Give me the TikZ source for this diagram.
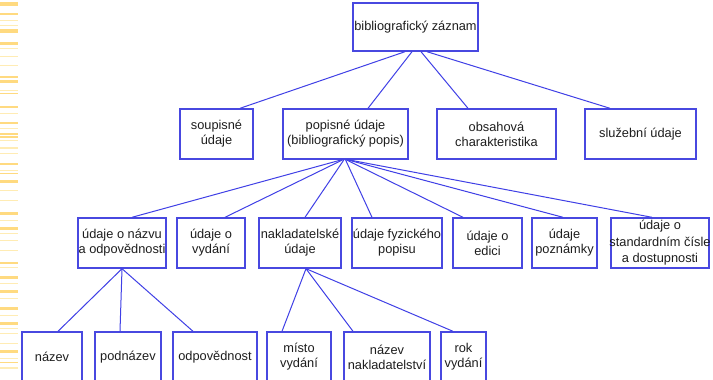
\documentclass[tikz,border=0pt]{standalone}
\usepackage{fontspec}
\setmainfont{Liberation Sans}
\usetikzlibrary{calc}
\definecolor{boxblue}{RGB}{72,72,224}
\definecolor{lineblue}{RGB}{64,64,230}
\definecolor{stripeA}{RGB}{255,218,128}
\definecolor{stripeB}{RGB}{255,236,180}
\definecolor{txt}{RGB}{30,30,30}
\tikzset{
  box/.style={draw=boxblue, line width=1.4pt, fill=white, inner sep=0pt,
    align=center, font=\fontsize{12.8}{15.2}\selectfont, text=txt},
  conn/.style={draw=lineblue, line width=1pt},
}
\begin{document}
\begin{tikzpicture}[x=1pt,y=-1pt]
\useasboundingbox (0,0) rectangle (713,380);
\fill[white] (0,0) rectangle (713,380);
% decorative stripes on the left edge
\foreach \ya/\h/\c in {2/4/stripeA,13/2/stripeA,20/1/stripeB,25/1/stripeB,29/4/stripeA,42/3/stripeA,48/1/stripeB,56/1/stripeB,65/1/stripeB,76/2/stripeA,80/3/stripeA,90/1/stripeB,93/1/stripeA,106/2/stripeA,113/1/stripeB,122/2/stripeA,128/1/stripeB,133/2/stripeA,136/2/stripeA,140/1/stripeB,147/2/stripeB,153/1/stripeB,163/2/stripeA,170/1/stripeB,173/1/stripeA,180/3/stripeA,190/1/stripeB,200/1/stripeB,212/3/stripeA,220/1/stripeB,227/3/stripeA,233/1/stripeB,240/1/stripeB,250/1/stripeB,262/2/stripeA,267/1/stripeB,276/3/stripeA,283/1/stripeB,290/3/stripeA,298/1/stripeB,307/3/stripeA,315/1/stripeB,322/3/stripeA,328/1/stripeB,333/1/stripeB,343/1/stripeB,350/3/stripeA,358/1/stripeB,362/1/stripeA,367/2/stripeB}
  \fill[\c] (0,\ya) rectangle (18,\ya+\h);
% level 1
\node[box, minimum width=125, minimum height=48] (top) at (415.5,27) {bibliografický záznam};
% level 2
\node[box, minimum width=73, minimum height=50] (soupis) at (216.5,134) {soupisné\\údaje};
\node[box, minimum width=125, minimum height=50] (popis) at (345.5,134) {popisné údaje\\(bibliografický popis)};
\node[box, minimum width=119, minimum height=50] (obsah) at (496.5,134) {obsahová\\charakteristika};
\node[box, minimum width=111, minimum height=50] (sluz) at (640.5,134) {služební údaje};
% level 3
\node[box, minimum width=88, minimum height=50] (nazvu) at (122,243) {údaje o názvu\\a odpovědnosti};
\node[box, minimum width=68, minimum height=50] (vydani) at (211,243) {údaje o\\vydání};
\node[box, minimum width=82, minimum height=50] (naklad) at (300,243) {nakladatelské\\údaje};
\node[box, minimum width=90, minimum height=50] (fyz) at (397,243) {údaje fyzického\\popisu};
\node[box, minimum width=69, minimum height=50] (edici) at (487.5,243) {údaje o\\edici};
\node[box, minimum width=65, minimum height=50] (pozn) at (564.5,243) {údaje\\poznámky};
\node[box, minimum width=98, minimum height=50, font=\fontsize{12.8}{16.5}\selectfont] (std) at (660,243) {údaje o\\\makebox[90pt][c]{standardním čísle}\\a dostupnosti};
% level 4
\node[box, minimum width=60, minimum height=50] (nazev) at (52,357) {název};
\node[box, minimum width=66, minimum height=50] (podnazev) at (128,357) {podnázev};
\node[box, minimum width=84, minimum height=50] (odpov) at (215,357) {odpovědnost};
\node[box, minimum width=64, minimum height=50] (misto) at (299,357) {místo\\vydání};
\node[box, minimum width=86, minimum height=50] (nazevnakl) at (387,357) {název\\nakladatelství};
\node[box, minimum width=45, minimum height=50] (rok) at (463.5,357) {rok\\vydání};
% connectors level 1 -> 2
\draw[conn] ($(top.south)+(-10.5,0)$) -- ($(soupis.north)+(23.5,0)$);
\draw[conn] ($(top.south)+(-3.5,0)$) -- ($(popis.north)+(22.5,0)$);
\draw[conn] ($(top.south)+(5.5,0)$) -- ($(obsah.north)+(-28.5,0)$);
\draw[conn] ($(top.south)+(11.5,0)$) -- ($(sluz.north)+(-30.5,0)$);
% connectors level 2 -> 3
\draw[conn] ($(popis.south)+(-3.5,0)$) -- ($(nazvu.north)+(10,0)$);
\draw[conn] ($(popis.south)+(-2.5,0)$) -- ($(vydani.north)+(14,0)$);
\draw[conn] ($(popis.south)+(-1.5,0)$) -- ($(naklad.north)+(5,0)$);
\draw[conn] ($(popis.south)+(0,0)$) -- ($(fyz.north)+(-25,0)$);
\draw[conn] ($(popis.south)+(0.5,0)$) -- ($(edici.north)+(-24.5,0)$);
\draw[conn] ($(popis.south)+(1.5,0)$) -- ($(pozn.north)+(-1.5,0)$);
\draw[conn] ($(popis.south)+(2.5,0)$) -- ($(std.north)+(-8,0)$);
% connectors level 3 -> 4
\draw[conn] (nazvu.south) -- ($(nazev.north)+(6,0)$);
\draw[conn] (nazvu.south) -- ($(podnazev.north)+(-8,0)$);
\draw[conn] (nazvu.south) -- ($(odpov.north)+(-22,0)$);
\draw[conn] ($(naklad.south)+(6,0)$) -- ($(misto.north)+(-17,0)$);
\draw[conn] ($(naklad.south)+(6,0)$) -- ($(nazevnakl.north)+(-34,0)$);
\draw[conn] ($(naklad.south)+(6,0)$) -- ($(rok.north)+(-10.5,0)$);
\end{tikzpicture}
\end{document}
